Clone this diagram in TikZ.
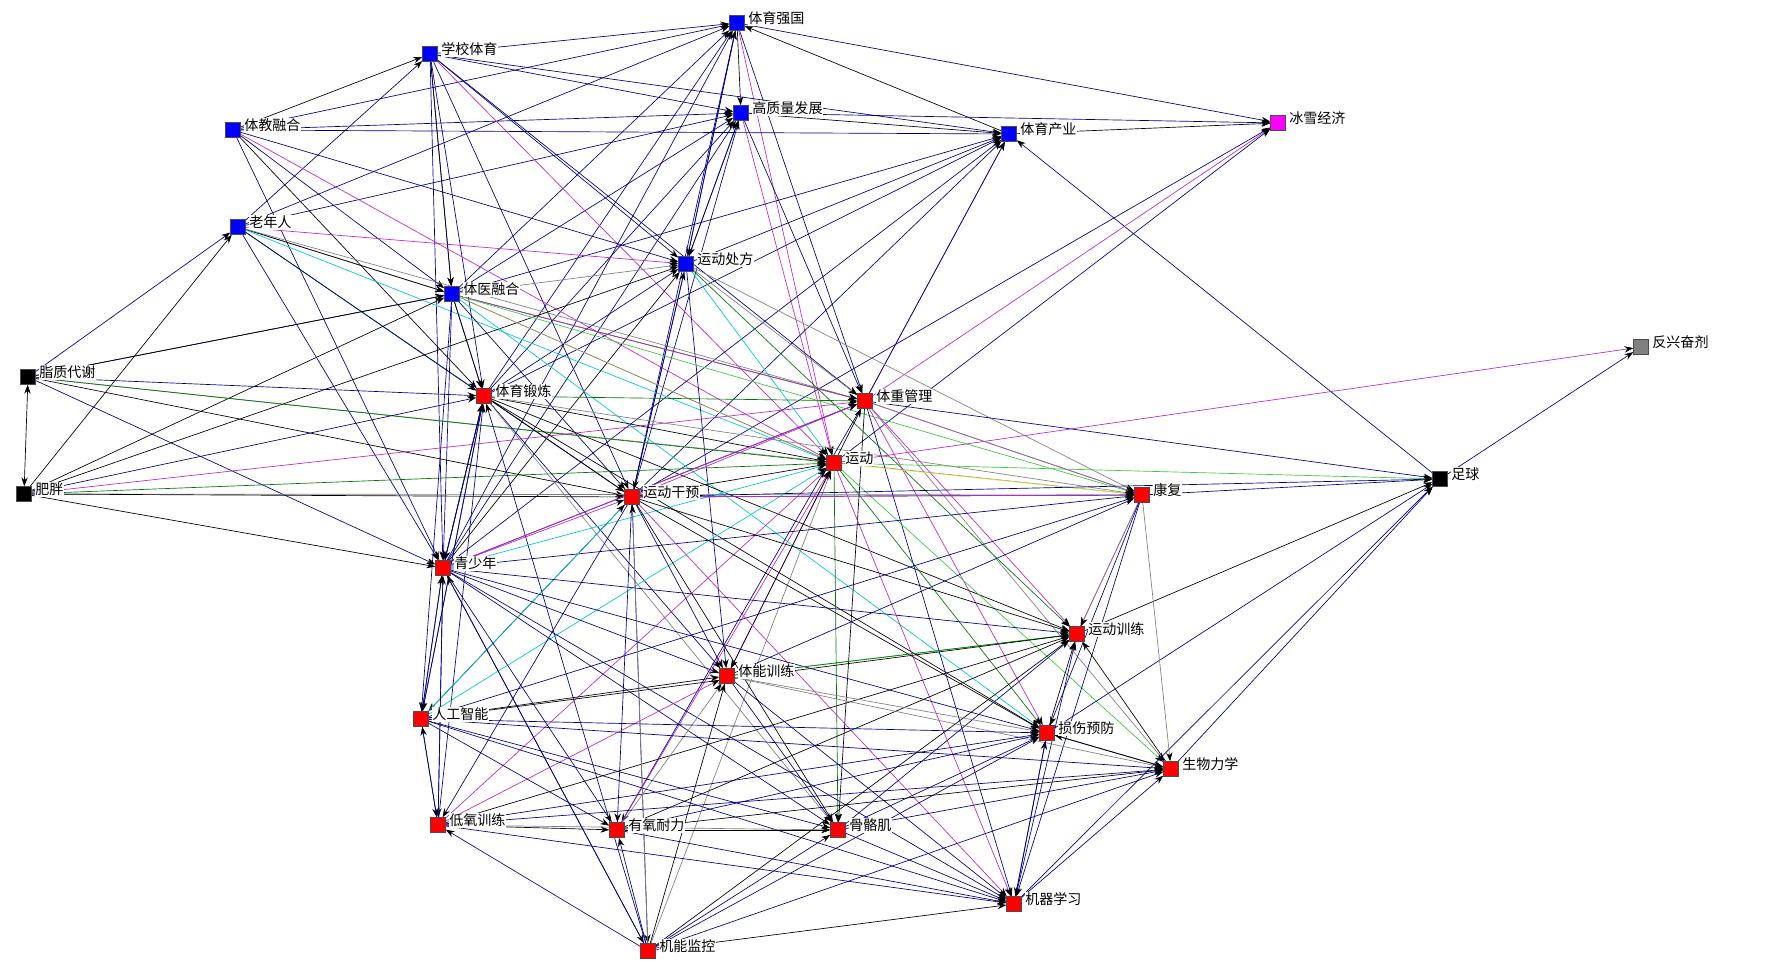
\documentclass[tikz,border=0pt]{standalone}
\usepackage{fontspec}
\newfontfamily\cjk{Noto Sans CJK SC}
\usepackage{tikz}
\usetikzlibrary{arrows.meta,backgrounds}

\definecolor{nblue}{RGB}{0,0,255}
\definecolor{nred}{RGB}{255,0,0}
\definecolor{nmag}{RGB}{255,0,255}
\definecolor{lnavy}{RGB}{0,0,135}
\definecolor{lmag}{RGB}{190,40,200}
\definecolor{lgreen}{RGB}{0,120,0}
\definecolor{llime}{RGB}{60,200,60}
\definecolor{lcyan}{RGB}{0,200,210}
\definecolor{lgray}{RGB}{128,128,128}
\definecolor{lyel}{RGB}{230,230,40}

\begin{document}
\begin{tikzpicture}[x=0.02cm, y=-0.02cm,
  sq/.style={draw=black!70, line width=0.3pt, minimum size=0.3cm, inner sep=0pt},
  every label/.style={font=\cjk\fontsize{8}{9}\selectfont, fill=white, inner sep=0.4pt, yshift=0.09cm},
  label distance=0.05cm,
  lk/.style={line width=0.38pt, -{Stealth[length=5pt,width=3.6pt,color=black]}},
  nv/.style={lk, lnavy}, bk/.style={lk, black}, mg/.style={lk, lmag},
  gn/.style={lk, lgreen}, lm/.style={lk, llime}, cn/.style={lk, lcyan},
  gy/.style={lk, lgray}, yw/.style={lk, lyel}]
  \useasboundingbox (0,0) rectangle (1772,972);
  % blue
  \node (qiang) [sq, fill=nblue, label=east:体育强国] at (737,23) {};
  \node (xxty) [sq, fill=nblue, label=east:学校体育] at (430,54) {};
  \node (tjrh) [sq, fill=nblue, label=east:体教融合] at (233,130) {};
  \node (gzl) [sq, fill=nblue, label=east:高质量发展] at (741,113) {};
  \node (cy) [sq, fill=nblue, label=east:体育产业] at (1009,134) {};
  \node (lnr) [sq, fill=nblue, label=east:老年人] at (238,227) {};
  \node (cf) [sq, fill=nblue, label=east:运动处方] at (686,264) {};
  \node (tyrh) [sq, fill=nblue, label=east:体医融合] at (452,294) {};
  % others
  \node (bx) [sq, fill=nmag, label=east:冰雪经济] at (1278,123) {};
  \node (fx) [sq, fill=lgray, label=east:反兴奋剂] at (1641,347) {};
  \node (zz) [sq, fill=black, label=east:脂质代谢] at (28,377) {};
  \node (fp) [sq, fill=black, label=east:肥胖] at (24,494) {};
  \node (zq) [sq, fill=black, label=east:足球] at (1440,479) {};
  % red
  \node (dl) [sq, fill=nred, label=east:体育锻炼] at (484,396) {};
  \node (tz) [sq, fill=nred, label=east:体重管理] at (865,401) {};
  \node (yd) [sq, fill=nred, label=east:运动] at (834,463) {};
  \node (gy) [sq, fill=nred, label=east:运动干预] at (632,497) {};
  \node (kf) [sq, fill=nred, label=east:康复] at (1142,495) {};
  \node (qsn) [sq, fill=nred, label=east:青少年] at (443,568) {};
  \node (xl) [sq, fill=nred, label=east:运动训练] at (1077,634) {};
  \node (tn) [sq, fill=nred, label=east:体能训练] at (727,676) {};
  \node (ai) [sq, fill=nred, label=east:人工智能] at (421,719) {};
  \node (ss) [sq, fill=nred, label=east:损伤预防] at (1047,733) {};
  \node (sw) [sq, fill=nred, label=east:生物力学] at (1171,769) {};
  \node (dy) [sq, fill=nred, label=east:低氧训练] at (438,825) {};
  \node (yy) [sq, fill=nred, label=east:有氧耐力] at (617,830) {};
  \node (gg) [sq, fill=nred, label=east:骨骼肌] at (838,830) {};
  \node (jq) [sq, fill=nred, label=east:机器学习] at (1014,904) {};
  \node (jn) [sq, fill=nred, label=east:机能监控] at (648,951) {};

  \begin{pgfonlayer}{background}
  % top cluster
  \draw[nv] (xxty) -- (qiang);
  \draw[nv] (tjrh) -- (qiang);
  \draw[nv] (lnr) -- (qiang);
  \draw[bk] (qiang) -- (gzl);
  \draw[bk] (cy) -- (qiang);
  \draw[nv] (qiang) -- (bx);
  \draw[nv] (cf) -- (qiang);
  \draw[nv] (qiang) -- (cf);
  \draw[nv] (tyrh) -- (qiang);
  \draw[nv] (dl) -- (qiang);
  \draw[nv] (qsn) -- (qiang);
  \draw[nv] (gy) -- (qiang);
  \draw[mg] (qiang) -- (yd);
  \draw[nv] (qiang) -- (tz);
  \draw[nv] (xxty) -- (gzl);
  \draw[nv] (tjrh) -- (gzl);
  \draw[nv] (lnr) -- (gzl);
  \draw[bk] (gzl) -- (cy);
  \draw[nv] (gzl) -- (bx);
  \draw[nv] (tyrh) -- (gzl);
  \draw[nv] (dl) -- (gzl);
  \draw[nv] (gzl) -- (cf);
  \draw[nv] (cf) -- (gzl);
  \draw[nv] (gy) -- (gzl);
  \draw[mg] (gzl) -- (yd);
  \draw[nv] (gzl) -- (tz);
  \draw[nv] (qsn) -- (gzl);
  \draw[bk] (tjrh) -- (xxty);
  \draw[nv] (lnr) -- (xxty);
  \draw[nv] (xxty) -- (cy);
  \draw[nv] (xxty) -- (tyrh);
  \draw[bk] (xxty) -- (tyrh);
  \draw[nv] (xxty) -- (qsn);
  \draw[nv] (xxty) -- (dl);
  \draw[nv] (xxty) -- (cf);
  \draw[mg] (xxty) -- (yd);
  \draw[nv] (xxty) -- (gy);
  \draw[nv] (xxty) -- (tz);
  \draw[nv] (tjrh) -- (cy);
  \draw[nv] (tjrh) -- (tyrh);
  \draw[bk] (tjrh) -- (dl);
  \draw[nv] (tjrh) -- (qsn);
  \draw[nv] (tjrh) -- (cf);
  \draw[mg] (tjrh) -- (yd);
  \draw[nv] (cf) -- (cy);
  \draw[nv] (tyrh) -- (cy);
  \draw[nv] (dl) -- (cy);
  \draw[nv] (gy) -- (cy);
  \draw[mg] (tz) -- (cy);
  \draw[nv] (tz) -- (cy);
  \draw[nv] (zq) -- (cy);
  \draw[nv] (qsn) -- (cy);
  \draw[bk] (cy) -- (bx);
  \draw[mg] (tz) -- (bx);
  \draw[nv] (gy) -- (bx);
  \draw[nv] (yd) -- (bx);
  % left side
  \draw[nv] (zz) -- (lnr);
  \draw[bk] (fp) -- (lnr);
  \draw[gy] (lnr) -- (tyrh);
  \draw[bk] (lnr) -- (tyrh);
  \draw[gn] (lnr) -- (dl);
  \draw[mg] (lnr) -- (cf);
  \draw[nv] (lnr) -- (qsn);
  \draw[cn] (lnr) -- (yd);
  \draw[gy] (lnr) -- (tz);
  \draw[nv] (lnr) -- (gy);
  \draw[gy] (tyrh) -- (cf);
  \draw[nv] (dl) -- (cf);
  \draw[nv] (gy) -- (cf);
  \draw[nv] (cf) -- (gy);
  \draw[cn] (cf) -- (yd);
  \draw[gy] (cf) -- (tz);
  \draw[nv] (cf) -- (tn);
  \draw[gy] (cf) -- (kf);
  \draw[bk] (qsn) -- (cf);
  \draw[bk] (fp) -- (cf);
  \draw[gn] (cf) -- (xl);
  \draw[nv] (zz) -- (tyrh);
  \draw[bk] (zz) -- (tyrh);
  \draw[bk] (fp) -- (tyrh);
  \draw[nv] (tyrh) -- (dl);
  \draw[bk] (tyrh) -- (dl);
  \draw[nv] (tyrh) -- (qsn);
  \draw[nv] (tyrh) -- (ai);
  \draw[gn] (tyrh) -- (tz);
  \draw[mg] (tyrh) -- (tz);
  \draw[yw] (tyrh) -- (yd);
  \draw[gy] (tyrh) -- (yd);
  \draw[lm] (tyrh) -- (kf);
  \draw[nv] (tyrh) -- (gy);
  \draw[cn] (tyrh) -- (ss);
  \draw[{Stealth[length=5pt,width=3.6pt]}-{Stealth[length=5pt,width=3.6pt]}, line width=0.38pt] (zz) -- (fp);
  \draw[nv] (zz) -- (dl);
  \draw[gy] (zz) -- (kf);
  \draw[gn] (zz) -- (yd);
  \draw[bk] (zz) -- (gy);
  \draw[nv] (zz) -- (qsn);
  \draw[nv] (fp) -- (dl);
  \draw[mg] (fp) -- (tz);
  \draw[gn] (fp) -- (yd);
  \draw[gy] (fp) -- (kf);
  \draw[bk] (fp) -- (qsn);
  \draw[bk] (fp) -- (gy);
  % middle
  \draw[gn] (dl) -- (tz);
  \draw[bk] (dl) -- (yd);
  \draw[bk] (dl) -- (gy);
  \draw[gy] (dl) -- (kf);
  \draw[bk] (dl) -- (xl);
  \draw[bk] (dl) -- (ss);
  \draw[nv] (dl) -- (qsn);
  \draw[bk] (dl) -- (qsn);
  \draw[nv] (dl) -- (ai);
  \draw[nv] (dl) -- (tn);
  \draw[gy] (dl) -- (gg);
  \draw[nv] (qsn) -- (dl);
  \draw[nv] (ai) -- (dl);
  \draw[nv] (dy) -- (dl);
  \draw[nv] (jn) -- (dl);
  \draw[mg] (tz) -- (kf);
  \draw[nv] (tz) -- (zq);
  \draw[mg] (tz) -- (xl);
  \draw[mg] (tz) -- (ss);
  \draw[bk] (tz) -- (gg);
  \draw[gy] (tz) -- (sw);
  \draw[nv] (tz) -- (jq);
  \draw[nv] (tz) -- (yy);
  \draw[bk] (yd) -- (tz);
  \draw[mg] (gy) -- (tz);
  \draw[nv] (qsn) -- (tz);
  \draw[mg] (qsn) -- (tz);
  \draw[yw] (yd) -- (kf);
  \draw[lm] (yd) -- (zq);
  \draw[mg] (yd) -- (fx);
  \draw[gn] (yd) -- (gg);
  \draw[gn] (yd) -- (ss);
  \draw[mg] (yd) -- (jq);
  \draw[lm] (yd) -- (sw);
  \draw[bk] (gy) -- (yd);
  \draw[mg] (tn) -- (yd);
  \draw[mg] (yy) -- (yd);
  \draw[mg] (dy) -- (yd);
  \draw[cn] (ai) -- (yd);
  \draw[cn] (qsn) -- (yd);
  \draw[gy] (jn) -- (yd);
  \draw[bk] (yd) -- (tn);
  \draw[nv] (kf) -- (zq);
  \draw[nv] (gy) -- (zq);
  \draw[nv] (zq) -- (fx);
  \draw[bk] (xl) -- (zq);
  \draw[nv] (ss) -- (zq);
  \draw[nv] (sw) -- (zq);
  \draw[nv] (jq) -- (zq);
  \draw[nv] (gy) -- (kf);
  \draw[mg] (gy) -- (kf);
  \draw[nv] (qsn) -- (kf);
  \draw[nv] (ai) -- (kf);
  \draw[mg] (kf) -- (xl);
  \draw[gy] (kf) -- (xl);
  \draw[nv] (kf) -- (ss);
  \draw[gy] (kf) -- (sw);
  \draw[nv] (kf) -- (jq);
  \draw[gy] (tz) -- (kf);
  \draw[nv] (tn) -- (kf);
  \draw[nv] (gy) -- (tn);
  \draw[nv] (gy) -- (yy);
  \draw[nv] (gy) -- (dy);
  \draw[nv] (gy) -- (ai);
  \draw[nv] (gy) -- (jn);
  \draw[bk] (gy) -- (gg);
  \draw[bk] (gy) -- (ss);
  \draw[bk] (gy) -- (xl);
  \draw[mg] (gy) -- (jq);
  \draw[mg] (qsn) -- (gy);
  \draw[cn] (ai) -- (gy);
  % lower part
  \draw[nv] (qsn) -- (ai);
  \draw[nv] (qsn) -- (dy);
  \draw[nv] (qsn) -- (yy);
  \draw[nv] (qsn) -- (tn);
  \draw[nv] (qsn) -- (ss);
  \draw[nv] (qsn) -- (xl);
  \draw[nv] (qsn) -- (gg);
  \draw[nv] (qsn) -- (jq);
  \draw[nv] (qsn) -- (jn);
  \draw[nv] (ai) -- (qsn);
  \draw[nv] (dy) -- (qsn);
  \draw[lm] (tn) -- (xl);
  \draw[gn] (tn) -- (xl);
  \draw[bk] (ai) -- (xl);
  \draw[bk] (dy) -- (xl);
  \draw[bk] (yy) -- (xl);
  \draw[bk] (ss) -- (xl);
  \draw[bk] (sw) -- (xl);
  \draw[nv] (jq) -- (xl);
  \draw[nv] (gg) -- (xl);
  \draw[bk] (jn) -- (xl);
  \draw[bk] (ai) -- (tn);
  \draw[gy] (tn) -- (ss);
  \draw[gy] (tn) -- (sw);
  \draw[nv] (tn) -- (gg);
  \draw[nv] (tn) -- (jq);
  \draw[mg] (dy) -- (tn);
  \draw[gy] (yy) -- (tn);
  \draw[bk] (jn) -- (tn);
  \draw[nv] (ai) -- (dy);
  \draw[nv] (dy) -- (ai);
  \draw[nv] (ai) -- (ss);
  \draw[nv] (ai) -- (sw);
  \draw[nv] (ai) -- (gg);
  \draw[nv] (ai) -- (jq);
  \draw[nv] (ai) -- (yy);
  \draw[nv] (sw) -- (ss);
  \draw[nv] (jq) -- (ss);
  \draw[nv] (ss) -- (jq);
  \draw[nv] (gg) -- (ss);
  \draw[nv] (yy) -- (ss);
  \draw[nv] (dy) -- (ss);
  \draw[nv] (jn) -- (ss);
  \draw[bk] (ss) -- (sw);
  \draw[nv] (jq) -- (sw);
  \draw[nv] (gg) -- (sw);
  \draw[bk] (yy) -- (sw);
  \draw[nv] (dy) -- (sw);
  \draw[bk] (dy) -- (yy);
  \draw[gy] (dy) -- (gg);
  \draw[nv] (dy) -- (jq);
  \draw[nv] (jn) -- (dy);
  \draw[bk] (yy) -- (gg);
  \draw[nv] (jn) -- (yy);
  \draw[nv] (yy) -- (jq);
  \draw[nv] (jn) -- (gg);
  \draw[nv] (gg) -- (jq);
  \draw[bk] (jn) -- (jq);
  \draw[nv] (jn) -- (qsn);
  \draw[gy] (jn) -- (gy);
  \draw[nv] (jn) -- (sw);
  \end{pgfonlayer}
\end{tikzpicture}
\end{document}
